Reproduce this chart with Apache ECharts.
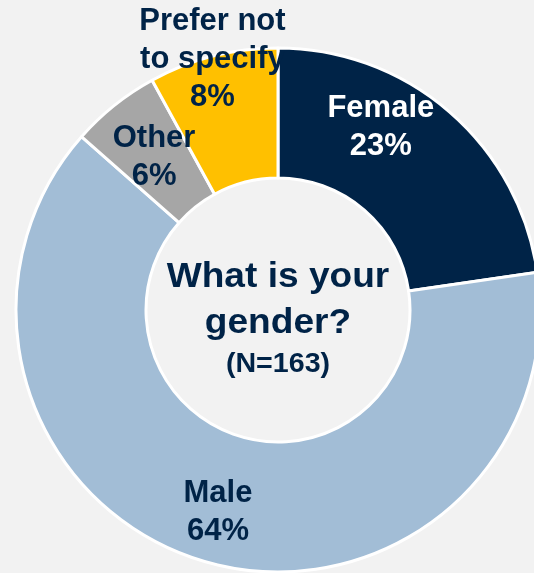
<!DOCTYPE html>
<html>
<head>
<meta charset="utf-8">
<script src="https://cdn.jsdelivr.net/npm/echarts@6/dist/echarts.min.js"></script>
<style>
  html, body { margin: 0; padding: 0; background: #f2f2f2; }
  #chart { width: 534px; height: 573px; }
</style>
</head>
<body>
<div id="chart"></div>
<script>
// respondents per answer, N=163
const categories = ["Female", "Male", "Other", "Prefer not\nto specify"];
const counts = [37, 104, 9, 13];
const question = ["What is your", "gender?"];
const sampleLabel = "(N=163)";

const NAVY = "#002347";
const colors = [NAVY, "#a2bdd6", "#a6a6a6", "#ffc000"];
const textColors = ["#ffffff", NAVY, NAVY, NAVY];
// nudges so labels sit where the original put them
const labelOffsets = [[-28, -31], [-3, 11], [1, 4], [-16, -57]];
const FONT = "'Liberation Sans', Arial, sans-serif";

const total = counts.reduce((a, b) => a + b, 0);

const myChart = echarts.init(document.getElementById("chart"));

const option = {
  backgroundColor: "#f2f2f2",
  animation: false,
  series: [
    {
      type: "pie",
      center: [278, 310],
      radius: [132, 262],
      startAngle: 90,
      clockwise: true,
      silent: true,
      itemStyle: { borderColor: "#ffffff", borderWidth: 3 },
      label: {
        show: true,
        position: "inside",
        fontFamily: FONT,
        fontWeight: "bold",
        fontSize: 31,
        lineHeight: 38,
        align: "center",
        formatter: function (p) {
          return p.name + "\n" + Math.round((p.value / total) * 100) + "%";
        }
      },
      labelLine: { show: false },
      data: categories.map(function (name, i) {
        return {
          name: name,
          value: counts[i],
          itemStyle: { color: colors[i] },
          label: { color: textColors[i], offset: labelOffsets[i] }
        };
      })
    }
  ],
  graphic: [
    {
      type: "text",
      x: 278,
      y: 319,
      scaleX: 1.06,
      style: {
        text: "{q|" + question[0] + "}\n{q|" + question[1] + "}\n{n|" + sampleLabel + "}",
        align: "center",
        verticalAlign: "middle",
        fill: NAVY,
        fontFamily: FONT,
        fontWeight: "bold",
        rich: {
          q: { fontSize: 35, lineHeight: 46, fontWeight: "bold", fontFamily: FONT, fill: NAVY },
          n: { fontSize: 27, lineHeight: 38, fontWeight: "bold", fontFamily: FONT, fill: NAVY }
        }
      }
    }
  ]
};

myChart.setOption(option);
</script>
</body>
</html>
